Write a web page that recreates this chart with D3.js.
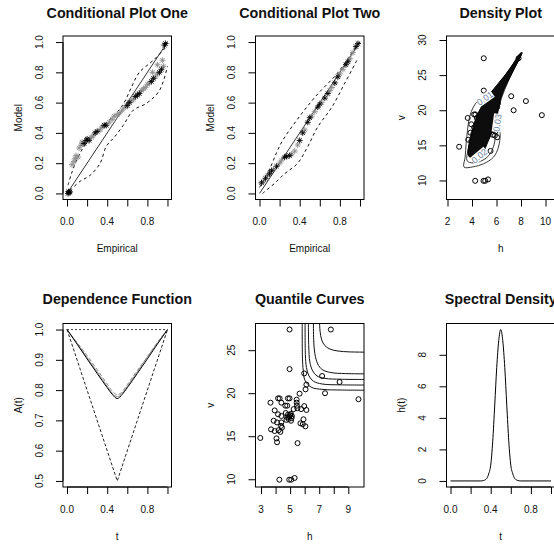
<!DOCTYPE html>
<html>
<head>
<meta charset="utf-8">
<script src="https://cdn.jsdelivr.net/npm/d3@7"></script>
<style>
  html, body { margin: 0; padding: 0; background: #fff; }
</style>
</head>
<body>
<script>
// ---------------- data ----------------
// Observations (h, v)
const hvPoints = [
  [4.96,27.4],[7.8,27.4],[4.96,22.8],[5.97,22.3],[7.2,22.0],[8.4,21.3],[6.12,21.0],[6.06,20.45],
  [7.4,20.0],[9.7,19.3],[5.65,19.95],[3.65,18.9],
  [4.17,19.4],[4.28,19.4],[4.85,19.4],[4.96,19.4],
  [5.45,19.25],[5.45,18.9],[5.47,18.55],[5.5,18.25],
  [4.4,18.9],[4.67,18.55],[4.8,18.55],
  [5.97,18.5],[6.12,18.05],[5.76,18.15],[5.24,18.15],
  [3.94,18.0],[4.17,17.55],[4.4,17.35],
  [4.7,17.7],[4.85,17.5],[4.95,17.3],[5.05,17.6],[5.1,17.1],[4.9,17.0],[5.0,17.45],[4.8,17.2],[5.12,17.35],[4.75,16.9],
  [3.87,16.8],[4.1,16.6],[4.4,16.6],[5.06,16.8],
  [3.69,15.8],[3.94,15.6],[4.21,15.7],[4.44,16.0],[4.33,15.5],[4.38,16.2],
  [4.06,14.75],[4.1,14.3],[2.95,14.8],[5.51,14.2],
  [5.71,16.5],[5.87,16.4],[6.05,16.15],[5.92,16.97],
  [4.26,9.95],[4.94,9.95],[5.08,9.95],[5.31,10.15]
];

// Conditional plot one: [empirical, model, shade (0 black, 1 grey)]
const cond1Points = [
  [0.01,0.0,0],[0.02,0.005,0],[0.03,0.01,0],[0.015,0.012,0],
  [0.05,0.19,1],[0.07,0.21,1],[0.08,0.23,1],[0.09,0.25,1],[0.11,0.24,1],
  [0.12,0.30,1],[0.14,0.32,1],[0.15,0.34,1],
  [0.17,0.33,0],[0.19,0.35,0],[0.20,0.36,0],[0.22,0.35,0],
  [0.24,0.37,1],[0.26,0.38,1],[0.28,0.40,0],[0.30,0.41,0],
  [0.33,0.42,1],[0.35,0.44,1],[0.37,0.45,0],[0.39,0.45,0],
  [0.42,0.47,1],[0.45,0.49,1],[0.47,0.51,1],[0.50,0.52,1],[0.52,0.53,1],
  [0.55,0.55,1],[0.58,0.57,1],[0.60,0.58,0],[0.62,0.60,0],
  [0.64,0.61,1],[0.66,0.62,1],[0.68,0.64,0],[0.70,0.65,0],[0.72,0.66,0],
  [0.74,0.68,1],[0.76,0.69,1],[0.78,0.70,1],[0.80,0.72,1],[0.82,0.73,1],
  [0.84,0.74,0],[0.86,0.76,0],[0.88,0.77,1],[0.90,0.79,1],
  [0.92,0.80,0],[0.94,0.82,0],[0.96,0.84,1],
  [0.85,0.80,1],[0.90,0.85,1],[0.95,0.88,1],
  [0.97,0.98,0],[0.98,0.99,0]
];
const cond1Upper = [[0.01,0.055],[0.044,0.13],[0.11,0.24],[0.19,0.33],[0.33,0.43],[0.46,0.51],
  [0.56,0.59],[0.64,0.70],[0.72,0.80],[0.86,0.88],[0.99,0.97]];
const cond1Lower = [[0.03,0.02],[0.13,0.08],[0.23,0.12],[0.33,0.20],[0.39,0.31],[0.475,0.375],
  [0.56,0.45],[0.66,0.55],[0.79,0.595],[0.92,0.68],[1.0,0.84]];

// Conditional plot two
const cond2Points = [
  [0.02,0.07,0],[0.04,0.08,1],[0.06,0.10,0],[0.08,0.12,1],[0.10,0.13,0],[0.12,0.15,0],
  [0.14,0.16,1],[0.17,0.18,0],[0.20,0.20,1],[0.22,0.22,1],[0.25,0.24,0],[0.27,0.245,0],
  [0.30,0.25,0],[0.32,0.26,1],[0.35,0.28,1],[0.38,0.32,1],[0.40,0.35,0],[0.43,0.40,0],
  [0.45,0.42,1],[0.48,0.47,0],[0.50,0.50,0],[0.52,0.51,1],[0.55,0.54,1],[0.58,0.57,0],
  [0.60,0.59,0],[0.62,0.60,1],[0.65,0.63,0],[0.68,0.66,0],[0.70,0.68,1],[0.72,0.70,1],
  [0.75,0.73,0],[0.78,0.77,0],[0.80,0.79,1],[0.83,0.82,1],[0.86,0.85,0],[0.88,0.87,0],
  [0.90,0.89,1],[0.93,0.93,1],[0.96,0.97,0],[0.98,0.99,0]
];
const cond2Upper = [[0.0,0.04],[0.10,0.16],[0.17,0.27],[0.23,0.35],[0.40,0.51],[0.57,0.65],
  [0.77,0.79],[0.93,0.94],[1.0,1.0]];
const cond2Lower = [[0.03,0.0],[0.15,0.067],[0.25,0.13],[0.38,0.20],[0.48,0.31],[0.58,0.44],
  [0.72,0.57],[0.85,0.73],[0.97,0.88]];

// Fitted density contours (h, v)
const contour001 = [[8.1,28.2],[7.1,26.0],[6.2,23.6],[5.76,22.9],[5.2,22.1],[4.53,21.43],[4.12,20.48],
  [3.8,19.05],[3.63,17.14],[3.52,15.24],[3.44,13.33],[3.35,11.9],[4.1,11.95],[4.94,12.38],[5.76,13.33],
  [6.16,14.76],[6.3,16.67],[6.16,18.1],[6.05,19.3],[6.3,21.5],[6.7,23.3],[7.3,25.4],[8.1,28.2]];
const contour002 = [[7.9,27.9],[7.0,25.6],[6.0,23.3],[5.1,21.3],[4.4,19.2],[3.95,16.8],[3.7,14.5],
  [3.6,12.8],[4.1,12.5],[4.9,12.9],[5.4,13.6],[5.75,14.8],[5.9,16.2],[5.85,17.3],[6.05,19.2],
  [6.4,21.7],[7.0,24.3],[7.9,27.9]];
const contourCore = [[3.71,13.57],[3.98,16.67],[4.39,19.05],[5.07,21.43],[6.03,23.57],[7.12,25.95],
  [7.93,28.1],[8.07,28.2],[7.25,25.24],[6.57,22.86],[6.16,20.48],[5.9,18.1],[5.35,15.71],
  [4.67,13.33],[4.2,13.0]];
const contourLabels = [
  {text: "0.01", h: 5.05, v: 21.7, angle: -35},
  {text: "0.02", h: 4.6, v: 13.5, angle: -40},
  {text: "0.03", h: 6.07, v: 18.2, angle: -82}
];

// Dependence function A(t)
const depT      = [0, 0.1, 0.2, 0.3, 0.4, 0.45, 0.5, 0.55, 0.6, 0.7, 0.8, 0.9, 1];
const depFit    = [1, 0.952, 0.903, 0.855, 0.808, 0.786, 0.772, 0.786, 0.808, 0.855, 0.903, 0.952, 1];
const depNonpar = [1, 0.955, 0.907, 0.860, 0.812, 0.790, 0.778, 0.790, 0.812, 0.860, 0.910, 0.955, 1];
const depNonpar2= [1, 0.957, 0.914, 0.868, 0.820, 0.797, 0.785, 0.795, 0.818, 0.865, 0.910, 0.958, 1];
const depUpperBound = [[0, 1], [1, 1]];
const depLowerBound = [[0, 1], [0.5, 0.5], [1, 1]];

// Quantile curves (h, v)
const quantileCurves = [
  [[5.83,28.3],[5.85,24.0],[5.9,22.7],[6.02,21.5],[6.45,20.7],[7.25,20.44],[8.5,20.37],[10.2,20.35]],
  [[6.03,28.3],[6.05,24.5],[6.12,23.0],[6.3,22.0],[6.6,21.4],[7.2,21.07],[8.5,20.97],[10.2,20.95]],
  [[6.26,28.3],[6.28,25.5],[6.36,23.6],[6.55,22.6],[6.85,22.0],[7.4,21.72],[8.5,21.62],[10.2,21.6]],
  [[6.6,28.3],[6.62,26.2],[6.7,24.6],[6.9,23.4],[7.2,22.75],[7.8,22.4],[8.8,22.28],[10.2,22.25]],
  [[7.02,28.3],[7.06,27.2],[7.17,26.2],[7.38,25.55],[7.75,25.12],[8.3,24.9],[9.1,24.8],[10.2,24.77]]
];

// Spectral density h(t)
const specT = [0, 0.30, 0.33, 0.36, 0.38, 0.40, 0.42, 0.44, 0.46, 0.48, 0.50, 0.52, 0.54, 0.56, 0.58, 0.60, 0.62, 0.64, 0.67, 0.70, 1];
const specH = [0, 0, 0.03, 0.15, 0.45, 1.0, 2.5, 4.8, 7.2, 8.9, 9.6, 8.9, 7.2, 4.8, 2.5, 1.0, 0.45, 0.15, 0.03, 0, 0];

// Axis ticks
const probTicks = [0, 0.2, 0.4, 0.6, 0.8, 1];
const probLabelTicks = [0, 0.4, 0.8];
const depYTicks = [0.5, 0.6, 0.7, 0.8, 0.9, 1.0];
const densXTicks = [2, 4, 6, 8, 10];
const densYTicks = [10, 15, 20, 25, 30];
const quantXTicks = [3, 4, 5, 6, 7, 8, 9];
const quantXLabelTicks = [3, 5, 7, 9];
const quantYTicks = [10, 15, 20, 25];
const specYTicks = [0, 2, 4, 6, 8];

// ---------------- layout ----------------
const W = 554, H = 546;
const FONT = "'Liberation Sans', Arial, Helvetica, sans-serif";
const colLeft = [63, 255.5, 446.5];
const rowTop = [36, 323.5];
const titleY = [13.3, 298.5];
const BW = 108.5, BH = 163.5;

const svg = d3.select("body").append("svg")
  .attr("width", W).attr("height", H)
  .style("display", "block")
  .style("font-family", FONT);
svg.append("rect").attr("width", W).attr("height", H).attr("fill", "#fff");

const f1 = d3.format(".1f"), fi = d3.format("d");

function makePanel(cfg) {
  const left = colLeft[cfg.col], top = rowTop[cfg.row];
  const x = d3.scaleLinear().domain(cfg.xDomain).range([left, left + BW]);
  const y = d3.scaleLinear().domain(cfg.yDomain).range([top + BH, top]);
  const g = svg.append("g");
  const clipId = "clip" + cfg.col + "_" + cfg.row;
  g.append("clipPath").attr("id", clipId)
    .append("rect").attr("x", left).attr("y", top).attr("width", BW).attr("height", BH);
  const plot = g.append("g").attr("clip-path", `url(#${clipId})`);

  // axes (ticks via d3 axes, labels drawn parallel to axis)
  const xAxis = d3.axisBottom(x).tickValues(cfg.xTicks).tickSize(7).tickSizeOuter(0).tickFormat("");
  const xa = g.append("g").attr("transform", `translate(0,${top + BH})`).call(xAxis);
  xa.select(".domain").attr("d", `M${x(cfg.xTicks[0])},0H${x(cfg.xTicks[cfg.xTicks.length - 1])}`);
  const yAxis = d3.axisLeft(y).tickValues(cfg.yTicks).tickSize(7).tickSizeOuter(0).tickFormat("");
  const ya = g.append("g").attr("transform", `translate(${left},0)`).call(yAxis);
  ya.select(".domain").attr("d", `M0,${y(cfg.yTicks[0])}V${y(cfg.yTicks[cfg.yTicks.length - 1])}`);
  g.selectAll(".tick line").attr("stroke", "#000");
  g.selectAll(".domain").attr("stroke", "#000");

  g.selectAll(null).data(cfg.xLabels).join("text")
    .attr("x", d => x(d)).attr("y", top + BH + 22).attr("dy", "0.35em")
    .attr("text-anchor", "middle").attr("font-size", 10).attr("fill", "#111")
    .text(cfg.xFmt);
  g.selectAll(null).data(cfg.yLabels).join("text")
    .attr("transform", d => `translate(${left - 24},${y(d)}) rotate(-90)`)
    .attr("dy", "0.35em").attr("text-anchor", "middle").attr("font-size", 10).attr("fill", "#111")
    .text(cfg.yFmt);

  g.append("text").attr("x", left + BW / 2).attr("y", titleY[cfg.row]).attr("dy", "0.35em")
    .attr("text-anchor", "middle").attr("font-size", 14.3).attr("font-weight", "bold").attr("fill", "#111")
    .text(cfg.title);
  g.append("text").attr("x", left + BW / 2).attr("y", top + BH + 49).attr("dy", "0.35em")
    .attr("text-anchor", "middle").attr("font-size", 10).attr("fill", "#111").text(cfg.xlab);
  g.append("text").attr("transform", `translate(${left - 45},${top + BH / 2}) rotate(-90)`)
    .attr("dy", "0.35em").attr("text-anchor", "middle").attr("font-size", 10).attr("fill", "#111").text(cfg.ylab);

  const box = g.append("rect").attr("x", left).attr("y", top).attr("width", BW).attr("height", BH)
    .attr("fill", "none").attr("stroke", "#000").attr("stroke-width", 1);
  return {x, y, plot, g, box};
}

function starPath(cx, cy, r) {
  const d = r * 0.72;
  return `M${cx - r},${cy}L${cx + r},${cy}M${cx},${cy - r}L${cx},${cy + r}` +
         `M${cx - d},${cy - d}L${cx + d},${cy + d}M${cx - d},${cy + d}L${cx + d},${cy - d}`;
}

function conditionalPanel(col, title, pts, upper, lower) {
  const p = makePanel({col, row: 0, xDomain: [-0.04, 1.04], yDomain: [-0.04, 1.04],
    xTicks: probTicks, xLabels: probLabelTicks, yTicks: probTicks, yLabels: probTicks,
    xFmt: f1, yFmt: f1, title, xlab: "Empirical", ylab: "Model"});
  const line = d3.line().x(d => p.x(d[0])).y(d => p.y(d[1]));
  p.plot.append("path").attr("d", line([[0, 0], [1, 1]]))
    .attr("fill", "none").attr("stroke", "#000").attr("stroke-width", 0.8);
  [upper, lower].forEach(s => {
    p.plot.append("path").attr("d", line.curve(d3.curveCatmullRom)(s))
      .attr("fill", "none").attr("stroke", "#111").attr("stroke-width", 1)
      .attr("stroke-dasharray", "3,3");
  });
  const ordered = pts.slice().sort((a, b) => b[2] - a[2]);
  p.plot.selectAll(null).data(ordered).join("path")
    .attr("d", d => starPath(p.x(d[0]), p.y(d[1]), 3))
    .attr("fill", "none").attr("stroke", d => d[2] ? "#8c8c8c" : "#000").attr("stroke-width", 0.9);
}

conditionalPanel(0, "Conditional Plot One", cond1Points, cond1Upper, cond1Lower);
conditionalPanel(1, "Conditional Plot Two", cond2Points, cond2Upper, cond2Lower);

// ---- Density plot ----
{
  const p = makePanel({col: 2, row: 0, xDomain: [1.918, 1.918 + BW / 12.25], yDomain: [7.29, 30.57],
    xTicks: densXTicks, xLabels: densXTicks, yTicks: densYTicks, yLabels: densYTicks,
    xFmt: fi, yFmt: fi, title: "Density Plot", xlab: "h", ylab: "v"});
  const line = d3.line().x(d => p.x(d[0])).y(d => p.y(d[1])).curve(d3.curveCatmullRomClosed);
  p.plot.selectAll(null).data(hvPoints).join("circle")
    .attr("cx", d => p.x(d[0])).attr("cy", d => p.y(d[1])).attr("r", 2.5)
    .attr("fill", "none").attr("stroke", "#000").attr("stroke-width", 1);
  [contour001, contour002].forEach(c => {
    p.plot.append("path").attr("d", line(c.slice(0, -1)))
      .attr("fill", "none").attr("stroke", "#222").attr("stroke-width", 0.9);
  });
  p.plot.append("path").attr("d", line(contourCore))
    .attr("fill", "#0d0d0d").attr("stroke", "#000").attr("stroke-width", 1);
  contourLabels.forEach(l => {
    const lg = p.plot.append("g")
      .attr("transform", `translate(${p.x(l.h)},${p.y(l.v)}) rotate(${l.angle})`);
    lg.append("rect").attr("x", -9).attr("y", -4.5).attr("width", 18).attr("height", 9).attr("fill", "#fff");
    lg.append("text").attr("text-anchor", "middle").attr("dy", "0.35em")
      .attr("font-size", 9).attr("fill", "#6b7c9c").text(l.text);
  });
}

// ---- Dependence function ----
{
  const p = makePanel({col: 0, row: 1, xDomain: [-0.04, 1.04], yDomain: [0.48, 1.02],
    xTicks: probTicks, xLabels: probLabelTicks, yTicks: depYTicks, yLabels: depYTicks,
    xFmt: f1, yFmt: f1, title: "Dependence Function", xlab: "t", ylab: "A(t)"});
  const line = d3.line().x(d => p.x(d[0])).y(d => p.y(d[1]));
  p.plot.append("path").attr("d", line(depUpperBound)).attr("fill", "none")
    .attr("stroke", "#444").attr("stroke-width", 1).attr("stroke-dasharray", "2,2");
  p.plot.append("path").attr("d", line(depLowerBound)).attr("fill", "none")
    .attr("stroke", "#222").attr("stroke-width", 1).attr("stroke-dasharray", "3,2");
  const smooth = d3.line().x((d, i) => p.x(depT[i])).y(d => p.y(d)).curve(d3.curveMonotoneX);
  p.plot.append("path").attr("d", smooth(depNonpar2)).attr("fill", "none")
    .attr("stroke", "#8a8a8a").attr("stroke-width", 1).attr("stroke-dasharray", "4,2");
  p.plot.append("path").attr("d", smooth(depNonpar)).attr("fill", "none")
    .attr("stroke", "#8a8a8a").attr("stroke-width", 1);
  p.plot.append("path").attr("d", smooth(depFit)).attr("fill", "none")
    .attr("stroke", "#000").attr("stroke-width", 1);
}

// ---- Quantile curves ----
{
  const p = makePanel({col: 1, row: 1, xDomain: [2.62, 10.08], yDomain: [9.1, 28.1],
    xTicks: quantXTicks, xLabels: quantXLabelTicks, yTicks: quantYTicks, yLabels: quantYTicks,
    xFmt: fi, yFmt: fi, title: "Quantile Curves", xlab: "h", ylab: "v"});
  p.plot.selectAll(null).data(hvPoints).join("circle")
    .attr("cx", d => p.x(d[0])).attr("cy", d => p.y(d[1])).attr("r", 2.5)
    .attr("fill", "none").attr("stroke", "#000").attr("stroke-width", 1);
  const line = d3.line().x(d => p.x(d[0])).y(d => p.y(d[1])).curve(d3.curveCatmullRom);
  p.plot.selectAll(null).data(quantileCurves).join("path")
    .attr("d", line).attr("fill", "none").attr("stroke", "#111").attr("stroke-width", 1);
}

// ---- Spectral density ----
{
  const p = makePanel({col: 2, row: 1, xDomain: [-0.04, 1.04], yDomain: [-0.384, 9.984],
    xTicks: probTicks, xLabels: probLabelTicks, yTicks: specYTicks, yLabels: specYTicks,
    xFmt: f1, yFmt: fi, title: "Spectral Density", xlab: "t", ylab: "h(t)"});
  const line = d3.line().x((d, i) => p.x(specT[i])).y(d => p.y(d)).curve(d3.curveMonotoneX);
  p.plot.append("path").attr("d", line(specH)).attr("fill", "none")
    .attr("stroke", "#000").attr("stroke-width", 1);
}
</script>
</body>
</html>
